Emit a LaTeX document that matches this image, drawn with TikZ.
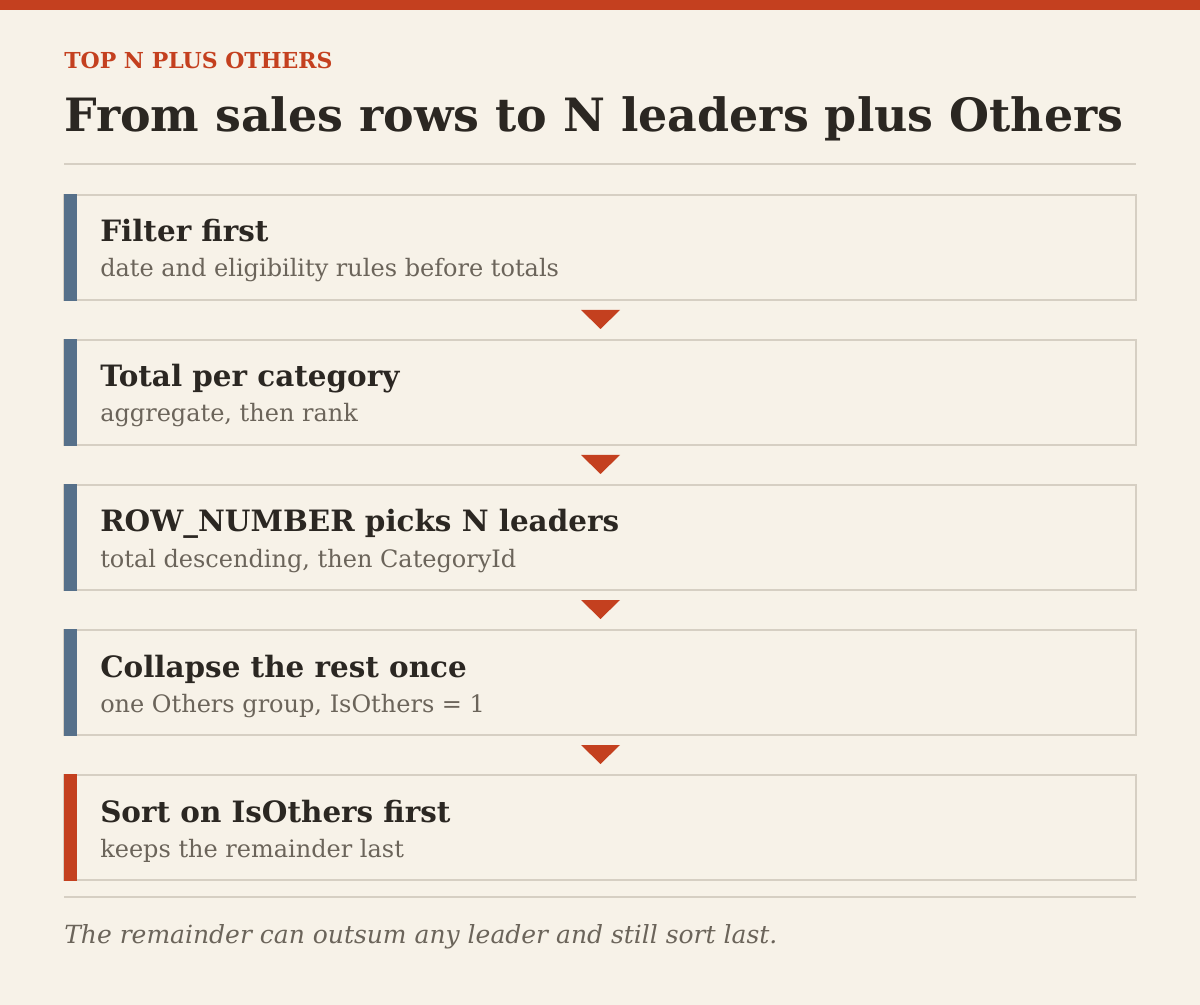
\documentclass[tikz,border=0pt]{standalone}
\usepackage{fontspec}
\setmainfont{DejaVu Serif}
\definecolor{bg}{HTML}{F7F2E8}
\definecolor{accent}{HTML}{C4401F}
\definecolor{steel}{HTML}{56708A}
\definecolor{ink}{HTML}{2B2722}
\definecolor{muted}{HTML}{6B645A}
\definecolor{rulec}{HTML}{D6CFC3}
\newcommand{\pxfont}[1]{\fontsize{\dimexpr #1pt*3/4\relax}{\dimexpr #1pt*9/10\relax}\selectfont}
\tikzset{
  card/.style={draw=rulec, line width=1.5pt, fill=bg},
  cardhead/.style={anchor=base west, inner sep=0pt, text=ink, font=\pxfont{29.4}\bfseries},
  cardsub/.style={anchor=base west, inner sep=0pt, text=muted, font=\pxfont{24}},
  flowtri/.style={fill=accent},
}
\begin{document}
\begin{tikzpicture}[x=0.75pt,y=-0.75pt]
\fill[bg] (0,0) rectangle (1200,1005);
\useasboundingbox (0,0) rectangle (1200,1005);
\fill[accent] (0,0) rectangle (1200,10);
\node[anchor=base west, inner sep=0pt, text=accent, font=\pxfont{22}\bfseries] (kicker) at (64,69) {TOP N PLUS OTHERS};
\node[anchor=base west, inner sep=0pt, text=ink, font=\pxfont{45.9}\bfseries] (title) at (64,132) {From sales rows to N leaders plus Others};
\draw[rulec, line width=1.5pt] (64,164) -- (1136,164);
\foreach \i/\t/\s/\c in {0/Filter first/date and eligibility rules before totals/steel,
  1/Total per category/{aggregate, then rank}/steel,
  2/ROW\_NUMBER picks N leaders/{total descending, then CategoryId}/steel,
  3/Collapse the rest once/{one Others group, IsOthers = 1}/steel,
  4/Sort on IsOthers first/keeps the remainder last/accent} {
  \pgfmathsetmacro{\top}{195+145*\i}
  \draw[card] (64,\top) rectangle (1136,\top+105);
  \fill[\c] (64,\top-1) rectangle (77,\top+106);
  \node[cardhead] (h\i) at (100,\top+47) {\t};
  \node[cardsub] (s\i) at (100,\top+82) {\s};
}
\foreach \i in {0,1,2,3} {
  \pgfmathsetmacro{\yy}{310+145*\i}
  \coordinate (t\i) at (600,\yy);
  \fill[flowtri] (581,\yy) -- (620,\yy) -- (600.5,\yy+19) -- cycle;
}
\draw[rulec, line width=1.5pt] (64,897) -- (1136,897);
\node[anchor=base west, inner sep=0pt, text=muted, font=\pxfont{25}\itshape] (foot) at (64,943) {The remainder can outsum any leader and still sort last.};
\end{tikzpicture}
\end{document}
